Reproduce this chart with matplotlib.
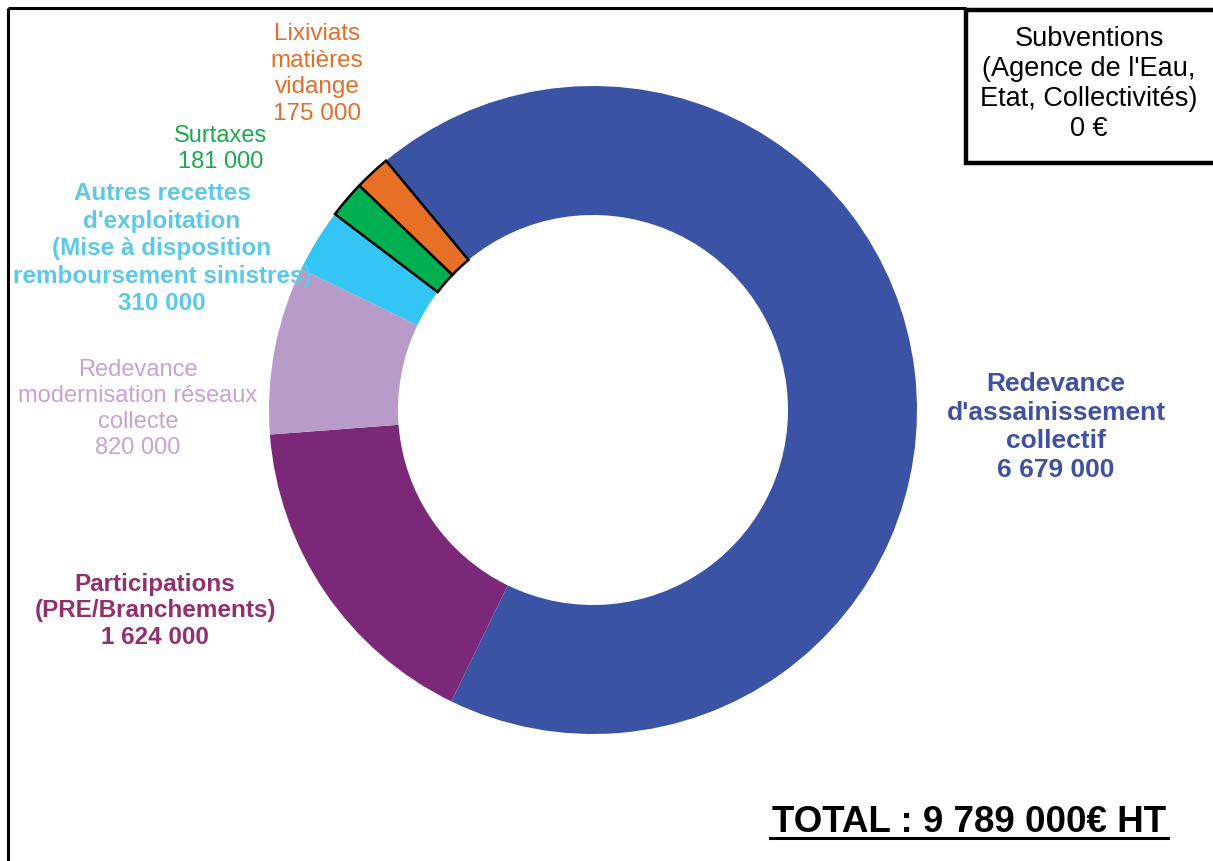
import matplotlib.pyplot as plt
from matplotlib.patches import Rectangle

plt.rcParams['font.family'] = ['Liberation Sans', 'DejaVu Sans']

# Data
labels = ["Redevance\nd'assainissement\ncollectif",
          "Participations\n(PRE/Branchements)",
          "Redevance\nmodernisation réseaux\ncollecte",
          "Autres recettes\nd'exploitation\n(Mise à disposition\nremboursement sinistres)",
          "Surtaxes",
          "Lixiviats\nmatières\nvidange"]
values = [6679000, 1624000, 820000, 310000, 181000, 175000]
value_text = ["6 679 000", "1 624 000", "820 000", "310 000", "181 000", "175 000"]
colors = ['#3A53A4', '#7B2879', '#B89BC9', '#33C5F3', '#00B050', '#E87026']
text_colors = ['#3F51A0', '#922F6E', '#C9A2D2', '#5CC9E8', '#1EA84C', '#E56E29']
bold = [True, True, False, True, False, False]
edged = [False, False, False, False, True, True]
total_text = "TOTAL : 9 789 000€ HT"
subv_text = "Subventions\n(Agence de l'Eau,\nEtat, Collectivités)\n0 €"

W, H = 1213, 861
fig = plt.figure(figsize=(W / 100, H / 100), dpi=100)
ax = fig.add_axes([0, 0, 1, 1])

cx, cy = 593, H - 410
wedges, _ = ax.pie(values, colors=colors, startangle=129.7, counterclock=False,
                   radius=324, center=(cx, cy),
                   wedgeprops=dict(width=129, linewidth=0))
for w, e in zip(wedges, edged):
    if e:
        w.set_edgecolor('black')
        w.set_linewidth(1.8)

ax.set_xlim(0, W)
ax.set_ylim(0, H)
ax.set_aspect('equal')
ax.axis('off')

# label positions (pixel coords from top-left), font sizes, line spacing
label_pos = [(1056, 427), (155, 611), (138, 409), (162, 249), (221, 149), (317, 74)]
label_size = [19, 17.5, 17, 17.5, 17, 17.5]
label_ls = [1.23, 1.22, 1.24, 1.25, 1.2, 1.28]
for lab, val, (x, y), c, b, s, ls in zip(labels, value_text, label_pos, text_colors,
                                         bold, label_size, label_ls):
    ax.text(x, H - y, lab + "\n" + val, ha='center', va='center', color=c,
            fontsize=s, fontweight='bold' if b else 'normal', linespacing=ls)

# outer frame (left and top)
ax.plot([8, 8], [-10, H - 8], color='black', lw=2.2, solid_capstyle='butt')
ax.plot([8, 966], [H - 8, H - 8], color='black', lw=2.2, solid_capstyle='butt')

# subventions box
ax.add_patch(Rectangle((966, H - 163), 300, 153, facecolor='white',
                       edgecolor='black', lw=3.2, clip_on=False))
ax.text(1089, H - 84, subv_text, ha='center', va='center', fontsize=19.5,
        color='black', linespacing=1.2)

# total with underline
ax.text(969, H - 822, total_text, ha='center', va='center', fontsize=26.5,
        fontweight='bold', color='black')
ax.plot([770, 1168], [H - 838, H - 838], color='black', lw=2.2)

fig.savefig('out.png', dpi=100)
